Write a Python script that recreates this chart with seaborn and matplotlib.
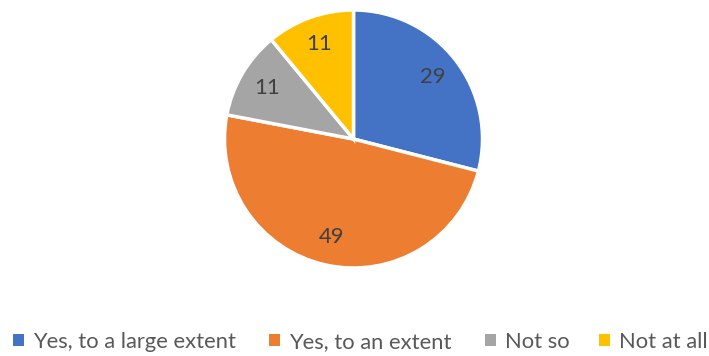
import matplotlib
matplotlib.use("Agg")
import matplotlib.pyplot as plt
import seaborn as sns

# dati
categories = ["Yes, to a large extent", "Yes, to an extent", "Not so", "Not at all"]
values = [29, 49, 11, 11]
colors = ["#4472C4", "#ED7D31", "#A5A5A5", "#FFC000"]

sns.set_theme(style="white")
plt.rcParams['font.family'] = ['Lato', 'DejaVu Sans']

W, H = 709, 356
fig = plt.figure(figsize=(W / 100, H / 100), dpi=100)
cx, cy, r = 353.5, 139, 129
ax = fig.add_axes([(cx - r) / W, 1 - (cy + r) / H, 2 * r / W, 2 * r / H])

wedges, texts = ax.pie(values, colors=colors, startangle=90, counterclock=False,
                       labels=[str(v) for v in values], labeldistance=0.78,
                       wedgeprops=dict(edgecolor="white", linewidth=2.5),
                       textprops=dict(color="#404040", fontsize=15.8))
for t in texts:
    t.set_horizontalalignment("center")
    t.set_verticalalignment("center")
ax.set_xlim(-1, 1)
ax.set_ylim(-1, 1)
ax.set_aspect("equal")
ax.axis("off")

# legenda: una voce per volta, posizionata come nel riferimento
legend_x = [13, 269, 485, 599]
for w, lab, x in zip(wedges, categories, legend_x):
    leg = fig.legend([w], [lab], loc="center left", bbox_to_anchor=(x / W, 1 - 342 / H),
                     frameon=False, fontsize=15.8, labelcolor="#595959",
                     handlelength=0.5, handleheight=0.5, handletextpad=0.4,
                     borderpad=0, borderaxespad=0)
    for h in leg.legend_handles:
        h.set_edgecolor("none")

fig.savefig("out.png", dpi=100)
